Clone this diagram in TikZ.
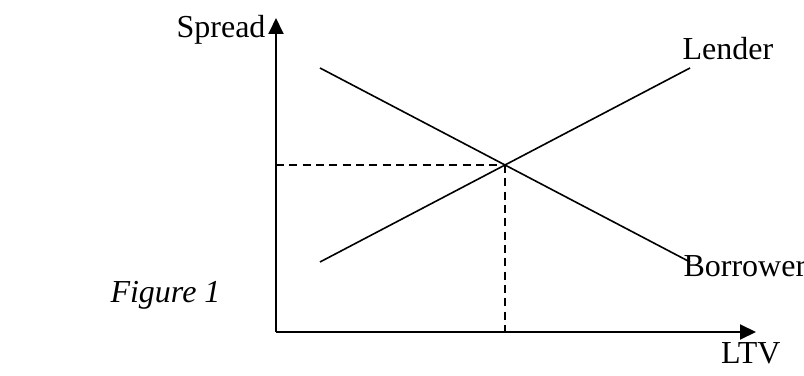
\documentclass[tikz,border=0pt]{standalone}
\usepackage{fontspec}
\setmainfont{Liberation Serif}
\usetikzlibrary{arrows.meta}

\begin{document}
\begin{tikzpicture}[x=0.375pt, y=-0.375pt, every node/.style={font=\fontsize{12}{14}\selectfont, inner sep=0pt}, ax/.style={line width=0.8pt, -{Triangle[length=6pt, width=5.6pt]}}, curve/.style={line width=0.6pt}, guide/.style={line width=0.6pt, dash pattern=on 3pt off 2pt}]
	\useasboundingbox (0,0) rectangle (804,376);
	\coordinate (O) at (276,332);
	\coordinate (Y) at (276,18);
	\coordinate (X) at (756,332);
	\coordinate (L0) at (320,262);
	\coordinate (L1) at (690,68);
	\coordinate (B0) at (320,68);
	\coordinate (B1) at (690,262);
	\coordinate (E) at (505,165);
	\coordinate (Ey) at (276,165);
	\coordinate (Ex) at (505,332);
	\draw[ax] (O) -- (Y);
	\draw[ax] (O) -- (X);
	\foreach \a/\b in {L0/L1, B0/B1} {\draw[curve] (\a) -- (\b);}
	\foreach \a/\b in {Ey/E, E/Ex} {\draw[guide] (\a) -- (\b);}
	\node[anchor=base east] (spread) at (266,38) {Spread};
	\node[anchor=base east] (ltv) at (781,363) {LTV};
	\node[anchor=base west] (lender) at (682,60) {Lender};
	\node[anchor=base west] (borrower) at (683,277) {Borrower};
	\node[anchor=base west] (fig) at (110,303) {\itshape Figure 1};
\end{tikzpicture}
\end{document}
